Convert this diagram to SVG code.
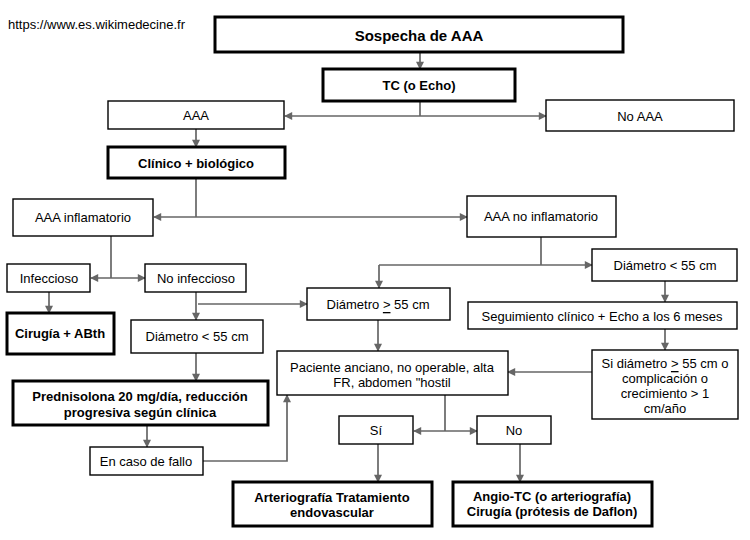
<svg xmlns="http://www.w3.org/2000/svg" width="750" height="540" viewBox="0 0 750 540">
<style>
  .box{fill:#fff;stroke:#000;stroke-width:1.4}
  .thick{fill:#fff;stroke:#000;stroke-width:3}
  .t{font-family:"Liberation Sans",Arial,sans-serif;font-size:13px;fill:#000;text-anchor:middle;dominant-baseline:central}
  .b{font-weight:bold}
  .c{fill:none;stroke:#666;stroke-width:1.7}
  .a{marker-end:url(#ah)}
  .aa{marker-start:url(#ah);marker-end:url(#ah)}
</style>
<defs>
  <marker id="ah" viewBox="0 0 10 10" refX="9" refY="5" markerWidth="9" markerHeight="8" markerUnits="userSpaceOnUse" orient="auto-start-reverse">
    <path d="M0,0 L10,5 L0,10 z" fill="#666"/>
  </marker>
</defs>
<rect width="750" height="540" fill="#fff"/>
<text x="8" y="24" style="font-family:'Liberation Sans',Arial,sans-serif;font-size:13px;fill:#000;dominant-baseline:central">https://www.es.wikimedecine.fr</text>

<g id="connectors">
  <path class="c a" d="M420,52 V69"/>
  <path class="c" d="M420,101 V116"/>
  <path class="c aa" d="M285,116 H546"/>
  <path class="c a" d="M196,129 V147"/>
  <path class="c" d="M196,178 V217"/>
  <path class="c aa" d="M154,217 H467"/>
  <path class="c" d="M111,236 V278"/>
  <path class="c aa" d="M91,278 H145"/>
  <path class="c a" d="M49,292 V313"/>
  <path class="c a" d="M196,292 V320"/>
  <path class="c a" d="M198,304 H307"/>
  <path class="c a" d="M196,353 V381"/>
  <path class="c a" d="M147,425 V447"/>
  <path class="c a" d="M203,461 H287 V395"/>
  <path class="c" d="M541,237 V265"/>
  <path class="c a" d="M379,265 H592"/>
  <path class="c a" d="M379,265 V288"/>
  <path class="c a" d="M378,320 V351"/>
  <path class="c a" d="M665,281 V302"/>
  <path class="c a" d="M665,329 V350"/>
  <path class="c a" d="M592,372 H508"/>
  <path class="c" d="M445,395 V431"/>
  <path class="c aa" d="M414,431 H477"/>
  <path class="c a" d="M378,444 V482"/>
  <path class="c a" d="M520,444 V482"/>
</g>

<g id="sospecha"><rect class="thick" x="215" y="17" width="408" height="35"/><text class="t b" x="419" y="35" style="font-size:15px">Sospecha de AAA</text></g>
<g id="tc"><rect class="thick" x="323" y="69" width="192" height="32"/><text class="t b" x="419" y="85">TC (o Echo)</text></g>
<g id="aaa"><rect class="box" x="108" y="101" width="176" height="28"/><text class="t" x="196" y="115">AAA</text></g>
<g id="noaaa"><rect class="box" x="546" y="100" width="188" height="31"/><text class="t" x="640" y="116">No AAA</text></g>
<g id="clinico"><rect class="thick" x="108" y="147" width="177" height="31"/><text class="t b" x="196" y="163">Clínico + biológico</text></g>
<g id="inflam"><rect class="box" x="13" y="199" width="140" height="37"/><text class="t" x="83" y="217">AAA inflamatorio</text></g>
<g id="noinflam"><rect class="box" x="467" y="196" width="149" height="41"/><text class="t" x="541" y="216">AAA no inflamatorio</text></g>
<g id="infeccioso"><rect class="box" x="7" y="264" width="83" height="28"/><text class="t" x="49" y="278">Infeccioso</text></g>
<g id="noinfeccioso"><rect class="box" x="145" y="264" width="101" height="28"/><text class="t" x="196" y="278">No infeccioso</text></g>
<g id="cirugia"><rect class="thick" x="7" y="313" width="107" height="41"/><text class="t b" x="60" y="333">Cirugía + ABth</text></g>
<g id="diam55l"><rect class="box" x="131" y="320" width="132" height="33"/><text class="t" x="197" y="336">Diámetro &lt; 55 cm</text></g>
<g id="diamge"><rect class="box" x="307" y="288" width="143" height="32"/><text class="t" x="378" y="304">Diámetro <tspan text-decoration="underline">&gt;</tspan> 55 cm</text></g>
<g id="diam55r"><rect class="box" x="592" y="249" width="145" height="32"/><text class="t" x="665" y="265">Diámetro &lt; 55 cm</text></g>
<g id="seguimiento"><rect class="box" x="468" y="302" width="269" height="27"/><text class="t" x="602" y="316">Seguimiento clínico + Echo a los 6 meses</text></g>
<g id="si-diam"><rect class="box" x="592" y="350" width="146" height="69"/>
  <text class="t" x="665" y="363">Si diámetro <tspan text-decoration="underline">&gt;</tspan> 55 cm o</text>
  <text class="t" x="665" y="378">complicación o</text>
  <text class="t" x="665" y="393">crecimiento &gt; 1</text>
  <text class="t" x="665" y="408">cm/año</text></g>
<g id="prednisolona"><rect class="thick" x="13" y="381" width="255" height="44"/>
  <text class="t b" x="140" y="396">Prednisolona 20 mg/día, reducción</text>
  <text class="t b" x="140" y="412">progresiva según clínica</text></g>
<g id="fallo"><rect class="box" x="90" y="447" width="113" height="28"/><text class="t" x="146" y="461">En caso de fallo</text></g>
<g id="paciente"><rect class="box" x="277" y="351" width="231" height="44"/>
  <text class="t" x="392" y="367">Paciente anciano, no operable, alta</text>
  <text class="t" x="392" y="382">FR, abdomen "hostil</text></g>
<g id="si"><rect class="box" x="339" y="416" width="74" height="28"/><text class="t" x="376" y="430">Sí</text></g>
<g id="no"><rect class="box" x="477" y="416" width="74" height="28"/><text class="t" x="514" y="430">No</text></g>
<g id="arteriografia"><rect class="thick" x="233" y="482" width="199" height="44"/>
  <text class="t b" x="332" y="497">Arteriografía Tratamiento</text>
  <text class="t b" x="332" y="512">endovascular</text></g>
<g id="angio"><rect class="thick" x="453" y="482" width="199" height="44"/>
  <text class="t b" x="552" y="496">Angio-TC (o arteriografía)</text>
  <text class="t b" x="552" y="511">Cirugía (prótesis de Daflon)</text></g>
</svg>
